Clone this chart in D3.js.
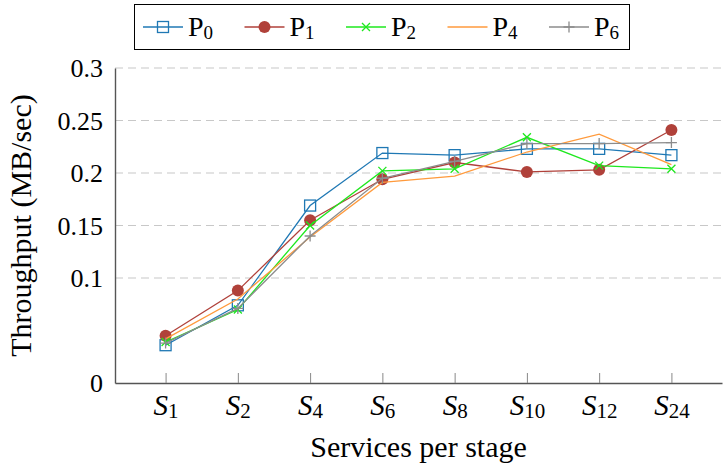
<!DOCTYPE html>
<html>
<head>
<meta charset="utf-8">
<script src="https://cdn.jsdelivr.net/npm/d3@7"></script>
<style>
  body { margin: 0; background: #fff; }
  text { font-family: "Liberation Serif", "Times New Roman", serif; fill: #000; }
</style>
</head>
<body>
<div id="chart"></div>
<script>
// services per stage (subscript of S)
const categories = ["1", "2", "4", "6", "8", "10", "12", "24"];
const yTicks = [0, 0.1, 0.15, 0.2, 0.25, 0.3];

const seriesNames = ["0", "1", "2", "4", "6"];
const p0 = [0.036, 0.074, 0.169, 0.219, 0.217, 0.223, 0.223, 0.217];
const p1 = [0.045, 0.088, 0.155, 0.194, 0.210, 0.201, 0.203, 0.241];
const p2 = [0.039, 0.070, 0.150, 0.202, 0.204, 0.234, 0.207, 0.204];
const p4 = [0.042, 0.080, 0.139, 0.191, 0.197, 0.220, 0.237, 0.208];
const p6 = [0.038, 0.071, 0.140, 0.195, 0.211, 0.228, 0.228, 0.229];

const colors = ["#1f78b4", "#b0413a", "#1ee81e", "#ff9a3c", "#8c8c8c"];
const markers = ["square", "circle", "cross", "none", "plus"];
const allSeries = [p0, p1, p2, p4, p6];

var margin = {top: 68, right: 5, bottom: 86, left: 115},
    W = 727, H = 469,
    width = W - margin.left - margin.right,
    height = H - margin.top - margin.bottom;

var svg = d3.select("#chart").append("svg")
    .attr("width", W)
    .attr("height", H);

var g = svg.append("g")
    .attr("transform", "translate(" + margin.left + "," + margin.top + ")");

const x = d3.scalePoint()
    .domain(categories)
    .range([0, width])
    .padding(0.7);

const y = d3.scaleLinear()
    .domain([0, 0.3])
    .range([height, 0]);

// dashed grid
g.selectAll(".grid")
    .data(yTicks.filter(d => d > 0))
    .enter().append("line")
    .attr("x1", 0).attr("x2", width)
    .attr("y1", d => y(d)).attr("y2", d => y(d))
    .style("stroke", "#c8c8c8")
    .style("stroke-width", 1.2)
    .style("stroke-dasharray", "8,5");

// y axis
var yAxis = g.append("g")
    .call(d3.axisLeft(y).tickValues(yTicks).tickSize(0).tickPadding(12)
        .tickFormat(d => d === 0 ? "0" : String(d)));
yAxis.select(".domain").style("stroke", "#555").style("stroke-width", 1.4);
yAxis.selectAll("text")
    .style("font-family", "Liberation Serif, serif")
    .style("font-size", "26px")
    .attr("dy", "0.34em");

// x axis
var xAxis = g.append("g")
    .attr("transform", "translate(0," + height + ")")
    .call(d3.axisBottom(x).tickSizeInner(-10).tickSizeOuter(0).tickPadding(0).tickFormat(""));
xAxis.select(".domain").style("stroke", "#555").style("stroke-width", 1.4);
xAxis.selectAll(".tick line").style("stroke", "#888").style("stroke-width", 1);

xAxis.selectAll(".tick").each(function(d) {
    var t = d3.select(this).append("text")
        .attr("y", 32)
        .attr("text-anchor", "middle")
        .style("font-size", "29px");
    t.append("tspan").text("S").style("font-style", "italic");
    t.append("tspan").text(d).attr("dy", 3).style("font-size", "21px");
});

// axis titles
svg.append("text")
    .attr("x", margin.left + width / 2)
    .attr("y", 457)
    .attr("text-anchor", "middle")
    .style("font-size", "30px")
    .text("Services per stage");

svg.append("text")
    .attr("transform", "translate(31," + (margin.top + height / 2) + ") rotate(-90)")
    .attr("text-anchor", "middle")
    .style("font-size", "30px")
    .text("Throughput (MB/sec)");

// marker drawing
function drawMarker(sel, type, color) {
    if (type === "square") {
        sel.append("rect")
            .attr("x", -5.5).attr("y", -5.5)
            .attr("width", 11).attr("height", 11)
            .style("fill", "none").style("stroke", color).style("stroke-width", 1.3);
    } else if (type === "circle") {
        sel.append("circle").attr("r", 6).style("fill", color);
    } else if (type === "cross") {
        sel.append("path").attr("d", "M-4,-4L4,4M-4,4L4,-4")
            .style("stroke", color).style("stroke-width", 1.3);
    } else if (type === "plus") {
        sel.append("path").attr("d", "M-5.5,0L5.5,0M0,-5.5L0,5.5")
            .style("stroke", color).style("stroke-width", 1.3);
    }
}

const line = d3.line()
    .x((d, i) => x(categories[i]))
    .y(d => y(d));

allSeries.forEach((vals, k) => {
    g.append("path")
        .datum(vals)
        .attr("d", line)
        .style("fill", "none")
        .style("stroke", colors[k])
        .style("stroke-width", 1.3);
    vals.forEach((v, i) => {
        var m = g.append("g")
            .attr("transform", "translate(" + x(categories[i]) + "," + y(v) + ")");
        drawMarker(m, markers[k], colors[k]);
    });
});

// legend
var legend = svg.append("g");
legend.append("rect")
    .attr("x", 134.5).attr("y", 4.5)
    .attr("width", 495).attr("height", 45)
    .style("fill", "#fff").style("stroke", "#000").style("stroke-width", 1);

seriesNames.forEach((name, k) => {
    var lx = 143 + k * 101.5;
    var item = legend.append("g").attr("transform", "translate(" + lx + ",27)");
    item.append("line")
        .attr("x1", 0).attr("x2", 40)
        .style("stroke", colors[k]).style("stroke-width", 1.3);
    var m = item.append("g").attr("transform", "translate(20,0)");
    drawMarker(m, markers[k], colors[k]);
    var t = item.append("text")
        .attr("x", 45).attr("y", 9)
        .style("font-size", "28px");
    t.append("tspan").text("P");
    t.append("tspan").text(name).attr("dy", 3).style("font-size", "19px");
});
</script>
</body>
</html>
